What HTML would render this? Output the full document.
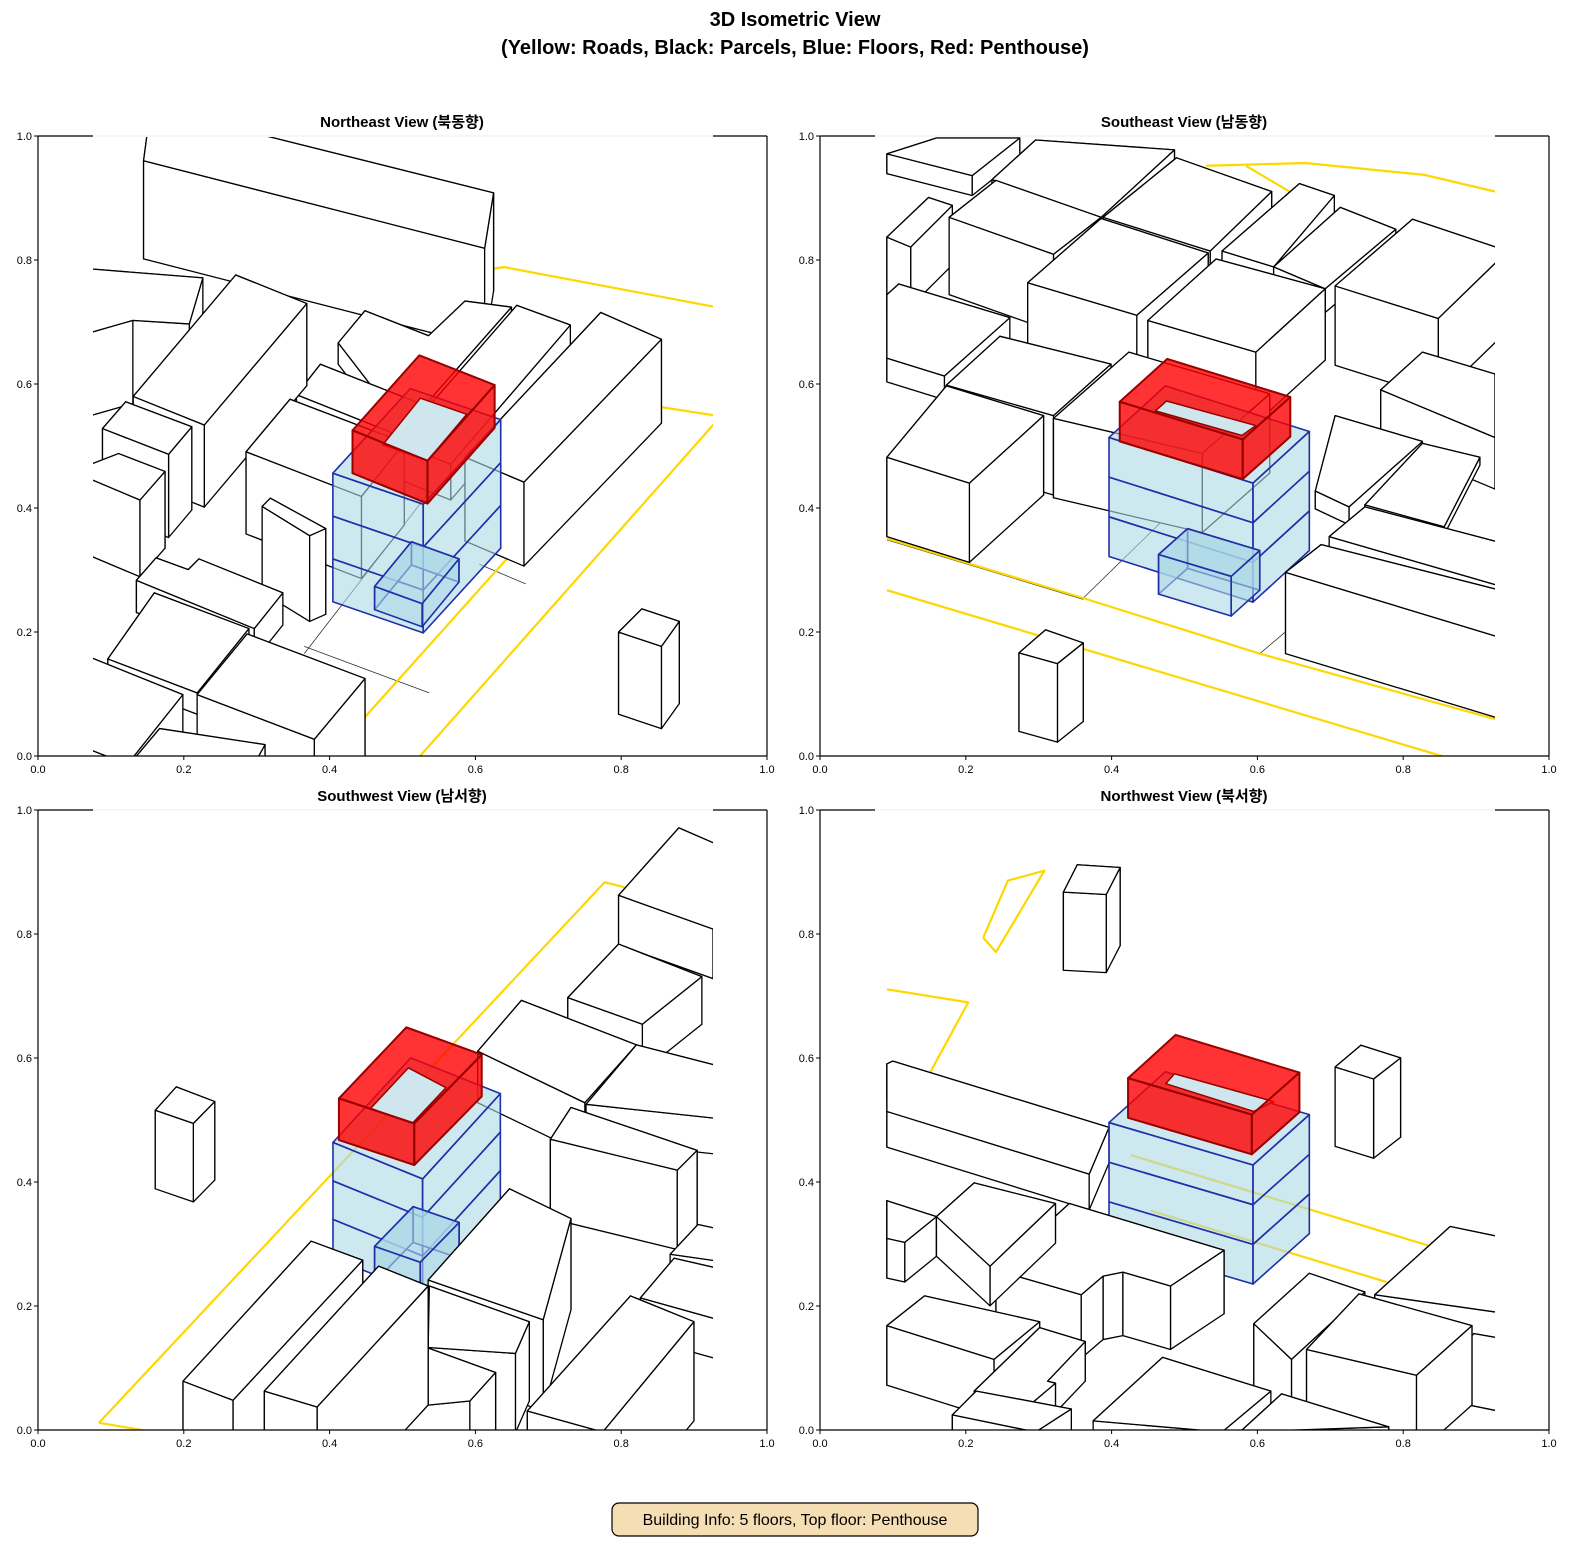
<!DOCTYPE html>
<html><head><meta charset="utf-8"><style>
html,body{margin:0;padding:0;background:#fff}
svg{display:block}
text{font-family:"Liberation Sans","Noto Sans CJK KR",sans-serif}
</style></head><body>
<svg id="s" xmlns="http://www.w3.org/2000/svg" width="1590" height="1560" viewBox="0 0 1590 1560">
<defs>
<clipPath id="c1"><rect x="93" y="136" width="620" height="620"/></clipPath>
<clipPath id="c2"><rect x="875" y="136" width="620" height="620"/></clipPath>
<clipPath id="c3"><rect x="93" y="810" width="620" height="620"/></clipPath>
<clipPath id="c4"><rect x="875" y="810" width="620" height="620"/></clipPath>
</defs>
<rect width="1590" height="1560" fill="#fff"/>
<text x="795" y="26" text-anchor="middle" font-size="20" font-weight="bold">3D Isometric View</text>
<text x="795" y="54" text-anchor="middle" font-size="20" font-weight="bold">(Yellow: Roads, Black: Parcels, Blue: Floors, Red: Penthouse)</text>
<text x="402" y="127" text-anchor="middle" font-size="15" font-weight="bold">Northeast View (북동향)</text>
<text x="1184" y="127" text-anchor="middle" font-size="15" font-weight="bold">Southeast View (남동향)</text>
<text x="402" y="801" text-anchor="middle" font-size="15" font-weight="bold">Southwest View (남서향)</text>
<text x="1184" y="801" text-anchor="middle" font-size="15" font-weight="bold">Northwest View (북서향)</text>
<g id="g1" clip-path="url(#c1)"></g>
<g id="g2" clip-path="url(#c2)"></g>
<g id="g3" clip-path="url(#c3)"></g>
<g id="g4" clip-path="url(#c4)"></g>
<g id="axes" font-size="11"></g>
<rect x="612" y="1503" width="366" height="33" rx="7" fill="#f5deb3" stroke="#000" stroke-width="1.2"/>
<text x="795" y="1525" text-anchor="middle" font-size="16">Building Info: 5 floors, Top floor: Penthouse</text>
</svg>
<script>
var NS="http://www.w3.org/2000/svg";
function el(p,tag,a){var e=document.createElementNS(NS,tag);for(var k in a)e.setAttribute(k,a[k]);p.appendChild(e);return e;}
function pts(a){return a.map(function(p){return p[0]+","+p[1]}).join(" ");}
function poly(g,a,fill,stroke,sw,op){el(g,"polygon",{points:pts(a),fill:fill,stroke:stroke,"stroke-width":sw||1,"fill-opacity":op==null?1:op,"vector-effect":"non-scaling-stroke","stroke-linejoin":"round"});}
function line(g,a,col,sw){el(g,"polyline",{points:pts(a),fill:"none",stroke:col,"stroke-width":sw,"vector-effect":"non-scaling-stroke","stroke-linejoin":"round"});}
function down(p,h){return [p[0],p[1]+h];}
function prism(g,top,h,fill,stroke,sw,op){
  var faces=[];
  for(var i=0;i<top.length;i++){var a=top[i],b=top[(i+1)%top.length];
    faces.push([a,b,down(b,h),down(a,h)]);}
  faces.sort(function(f1,f2){return (f1[0][1]+f1[1][1])-(f2[0][1]+f2[1][1]);});
  faces.forEach(function(f){poly(g,f,fill,stroke,sw,op);});
  poly(g,top,fill,stroke,sw,op);
}
function blue(g,L,F,R,B,h,n){
  for(var k=n-1;k>=0;k--){var o=k*h;
    var l=down(L,o),f=down(F,o),r=down(R,o);
    poly(g,[l,f,down(f,h),down(l,h)],"#add8e6","#1f2fa8",1.6,0.6);
    poly(g,[f,r,down(r,h),down(f,h)],"#add8e6","#1f2fa8",1.6,0.6);
  }
  poly(g,[L,F,R,B],"#add8e6","#1f2fa8",1.6,0.6);
}
function red(g,L,F,R,B,h,hole){
  poly(g,[L,F,R,B],"#ff0000","#990000",2,0.8);
  poly(g,hole,"#cfe6ee","#990000",1.5,1);
  poly(g,[L,F,down(F,h),down(L,h)],"#ff0000","#990000",2,0.8);
  poly(g,[F,R,down(R,h),down(F,h)],"#ff0000","#990000",2,0.8);
}
function panel(id,tx,ty,s,items,roads,thin){
  var G=document.getElementById(id);
  var g=el(G,"g",{transform:"translate("+tx+","+ty+") scale("+(1/s)+")"});
  thin.forEach(function(t){line(g,t,"#333",0.8);});
  roads.forEach(function(r){line(g,r,"#ffd700",2.2);});
  items.sort(function(a,b){return a.k-b.k;});
  items.forEach(function(it){it.f(g);});
}
function B(top,h){var m=-1e9;top.forEach(function(p){m=Math.max(m,p[1]);});return {k:m+h,f:function(g){prism(g,top,h,"#fff","#000",1.3,1);}};}
function BL(k,f){return {k:k,f:f};}

/* NE */
panel("g1",90,250,2.8,[
 B([[170,-400],[1130,-160],[1105,-5],[150,-250]],275),
 B([[-100,45],[316,78],[278,207],[120,197],[-100,260]],233),
 B([[408,70],[607,150],[320,490],[121,410]],230),
 B([[770,170],[948,240],[1050,143],[1180,160],[880,500],[695,260]],60),
 B([[1195,155],[1345,210],[1010,600],[860,540]],100),
 B([[1430,175],[1600,250],[1215,650],[1050,580]],235),
 B([[578,405],[645,320],[1000,460],[930,545]],50),
 B([[437,565],[560,418],[880,540],[760,690]],230),
 B([[482,718],[505,695],[660,780],[615,800]],240),
 B([[35,500],[100,425],[285,495],[220,572]],233),
 B([[-50,620],[140,700],[210,620],[80,570]],215),
 B([[130,925],[185,862],[275,895],[305,865],[540,960],[460,1060]],90),
 B([[50,1145],[180,960],[445,1060],[300,1240]],60),
 B([[300,1245],[440,1075],[770,1200],[628,1370]],240),
 B([[-100,1100],[260,1245],[105,1440],[-100,1360]],200),
 B([[115,1435],[195,1340],[490,1385],[410,1530]],200),
 B([[1480,1070],[1545,1005],[1650,1040],[1600,1110]],230),
 BL(1080,function(g){blue(g,[680,625],[933,712],[1150,475],[897,388],120,3);}),
 BL(1085,function(g){prism(g,[[797,942],[930,990],[1033,865],[900,817]],65,"#add8e6","#1f2fa8",1.6,0.6);}),
 BL(1090,function(g){red(g,[735,505],[945,590],[1133,378],[922,295],120,[[820,545],[945,590],[1055,460],[925,415]]);})
],[[[320,175],[1160,48],[1780,165]],[[600,1500],[672,1417],[1554,433],[1780,468]],[[860,1500],[924,1417],[1780,450]]],
[[[600,1130],[1010,600]],[[600,1110],[950,1240]],[[1090,880],[1220,935]],[[600,1500],[672,1417],[1554,433]]]);

/* SE */
panel("g2",873,136,2.521,[
 B([[35,45],[160,5],[370,5],[250,100]],50),
 B([[300,110],[410,10],[760,35],[575,205]],60),
 B([[580,205],[765,55],[1005,140],[850,290]],60),
 B([[880,290],[1075,120],[1163,150],[1010,330]],55),
 B([[1010,330],[1178,180],[1318,235],[1140,385]],60),
 B([[35,255],[140,155],[200,175],[95,280]],150),
 B([[192,205],[310,112],[575,205],[455,298]],195),
 B([[390,370],[575,208],[845,295],[665,452]],170),
 B([[693,465],[865,310],[1140,385],[965,545]],180),
 B([[1165,378],[1360,210],[1600,290],[1425,460]],200),
 B([[35,400],[65,373],[345,458],[180,605],[35,560]],60),
 B([[185,628],[320,505],[600,575],[455,705]],200),
 B([[455,712],[645,545],[1000,650],[830,800]],200),
 B([[35,810],[185,630],[430,705],[243,875]],200),
 B([[1280,640],[1385,545],[1568,600],[1568,760]],130),
 B([[1115,895],[1165,705],[1385,770],[1200,935]],45),
 B([[1240,930],[1385,775],[1530,810],[1440,985]],20),
 B([[1150,1010],[1240,935],[1600,1030],[1600,1140]],30),
 B([[1040,1100],[1130,1030],[1600,1150],[1600,1270]],205),
 B([[368,1303],[435,1245],[530,1278],[465,1330]],198),
 BL(1175,function(g){blue(g,[595,760],[958,875],[1100,745],[737,630],100,3);}),
 BL(1178,function(g){prism(g,[[720,1055],[903,1110],[975,1045],[793,990]],100,"#add8e6","#1f2fa8",1.6,0.6);}),
 BL(1180,function(g){red(g,[622,670],[932,765],[1052,658],[742,562],100,[[712,693],[930,755],[965,730],[740,668]]);})
],[[[35,1145],[1450,1568]],[[35,1015],[530,1165],[975,1305],[1568,1470]],[[840,75],[1090,68],[1390,98],[1568,140]],[[940,75],[1050,140]]],
[[[530,1165],[740,960]],[[975,1305],[1040,1250]],[[35,1018],[530,1168]]]);

/* SW */
panel("g3",91,810,2.521,[
 B([[162,757],[215,698],[312,735],[258,790]],198),
 B([[1330,215],[1482,45],[1700,140],[1568,300]],125),
 B([[1202,473],[1330,338],[1540,420],[1390,540]],120),
 B([[975,608],[1085,480],[1375,592],[1245,738]],130),
 B([[1248,742],[1375,592],[1600,650],[1600,780]],90),
 B([[1158,830],[1210,750],[1528,858],[1478,908]],200),
 B([[1460,1120],[1530,1045],[1600,1060],[1600,1140]],60),
 B([[1385,1230],[1470,1130],[1600,1160],[1600,1290]],100),
 B([[850,1185],[1055,955],[1210,1030],[1140,1285]],230),
 B([[853,1200],[1105,1290],[1070,1370],[850,1355]],200),
 B([[232,1440],[555,1087],[685,1135],[358,1488]],300),
 B([[437,1465],[725,1150],[850,1200],[570,1505]],300),
 B([[583,1505],[750,1320],[1020,1418],[955,1490],[700,1515]],200),
 B([[1100,1515],[1360,1225],[1520,1290],[1290,1568]],250),
 BL(1215,function(g){blue(g,[610,838],[836,930],[1032,715],[806,625],97,3);}),
 BL(1218,function(g){prism(g,[[715,1100],[830,1140],[928,1040],[812,1000]],90,"#add8e6","#1f2fa8",1.6,0.6);}),
 BL(1220,function(g){red(g,[625,727],[815,790],[985,617],[795,548],105,[[705,752],[810,790],[895,700],[800,650]]);})
],[[[20,1545],[1295,182],[1345,195]],[[20,1545],[230,1580]]],[]);

/* NW */
panel("g4",873,810,2.521,[
 B([[480,207],[515,138],[623,145],[588,213]],197),
 B([[1165,648],[1230,593],[1330,625],[1262,678]],200),
 B([[35,640],[50,633],[595,800],[545,918],[35,760]],90),
 B([[35,1080],[80,1090],[160,1025],[35,985]],100),
 B([[160,1025],[255,940],[460,992],[295,1150]],100),
 B([[35,1300],[130,1225],[420,1290],[305,1385]],150),
 B([[255,1465],[420,1305],[535,1340],[440,1440],[460,1445],[395,1500]],100),
 B([[200,1525],[260,1465],[500,1510],[410,1568]],80),
 B([[555,1540],[730,1380],[1003,1465],[880,1568]],100),
 B([[960,1295],[1100,1168],[1240,1215],[1055,1385]],200),
 B([[1265,1222],[1455,1050],[1600,1080],[1600,1270]],100),
 B([[1093,1360],[1225,1220],[1510,1300],[1370,1425]],200),
 B([[1355,1470],[1515,1320],[1600,1335],[1600,1520]],100),
 B([[925,1568],[1030,1472],[1300,1555]],100),
 BL(1195,function(g){blue(g,[595,788],[958,895],[1100,768],[737,660],100,3);}),
 BL(1197,function(g){prism(g,[[310,1160],[495,992],[885,1110],[750,1200],[630,1165],[580,1175],[525,1222]],160,"#fff","#000",1.3,1);}),
 BL(1200,function(g){red(g,[643,676],[955,768],[1075,662],[763,567],100,[[738,690],[960,760],[1010,735],[760,665]]);})
],[[[278,322],[340,178],[432,153],[310,358],[278,322]],[[35,452],[240,485],[145,660]],[[650,870],[1400,1098]],[[700,1010],[1295,1190]]],[]);

/* axes */
var A=document.getElementById("axes");
function axes(x0,y0){
  var w=729,h=620;
  el(A,"rect",{x:x0+55,y:y0-1,width:620,height:2,fill:"#fff"});
  el(A,"line",{x1:x0+55,y1:y0,x2:x0+675,y2:y0,stroke:"#eee","stroke-width":1});
  [[x0,y0,x0+55,y0],[x0+675,y0,x0+w,y0],[x0,y0,x0,y0+h],[x0+w,y0,x0+w,y0+h],[x0,y0+h,x0+w,y0+h]].forEach(function(l){
    el(A,"line",{x1:l[0],y1:l[1],x2:l[2],y2:l[3],stroke:"#000","stroke-width":1.2});});
  for(var i=0;i<=5;i++){var v=(i*0.2).toFixed(1);
    var x=x0+w*i/5, y=y0+h-h*i/5;
    el(A,"line",{x1:x,y1:y0+h,x2:x,y2:y0+h+4,stroke:"#000"});
    var t=el(A,"text",{x:x,y:y0+h+17,"text-anchor":"middle"});t.textContent=v;
    el(A,"line",{x1:x0-4,y1:y,x2:x0,y2:y,stroke:"#000"});
    var t2=el(A,"text",{x:x0-6,y:y+4,"text-anchor":"end"});t2.textContent=v;
  }
}
axes(38,136);axes(820,136);axes(38,810);axes(820,810);
</script>
</body></html>
